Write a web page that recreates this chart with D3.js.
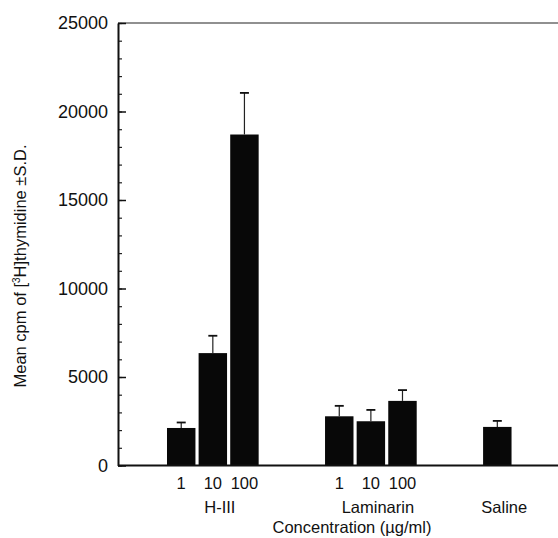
<!DOCTYPE html>
<html>
<head>
<meta charset="utf-8">
<script src="https://cdn.jsdelivr.net/npm/d3@7"></script>
<style>
  body { margin: 0; background: #fff; }
  svg { display: block; }
  text { font-family: "Liberation Sans", Arial, sans-serif; fill: #111; }
</style>
</head>
<body>
<div id="chart"></div>
<script>
// values
var groups = ["H-III", "Laminarin", "Saline"];
var doses = ["1", "10", "100"];
var hiiiMean = [2120, 6350, 18700];
var hiiiSD = [310, 980, 2350];
var laminarinMean = [2780, 2500, 3650];
var laminarinSD = [590, 640, 610];
var salineMean = [2180];
var salineSD = [340];
// slot where each group starts on the x axis (gaps between groups)
var groupStart = [1, 6, 11];
var yTicks = [0, 5000, 10000, 15000, 20000, 25000];

var width = 558, height = 538;
var margin = {top: 23, right: 0, bottom: 73, left: 118};

var svg = d3.select('#chart').append('svg')
    .attr('width', width)
    .attr('height', height);

// build rows for each bar
var rows = [];
[[hiiiMean, hiiiSD, doses], [laminarinMean, laminarinSD, doses], [salineMean, salineSD, [""]]]
    .forEach(function(g, gi) {
        g[0].forEach(function(v, i) {
            rows.push({group: groups[gi], dose: g[2][i], mean: v, sd: g[1][i], slot: groupStart[gi] + i});
        });
    });

var x = d3.scaleLinear().domain([-1, 12.92]).range([margin.left, width - margin.right]);
var y = d3.scaleLinear().domain([0, 25000]).range([height - margin.bottom + 0.5, margin.top]);
var slotW = x(1) - x(0);
var barW = slotW * 0.9;

// top frame line
svg.append('line')
    .attr('x1', margin.left).attr('x2', width)
    .attr('y1', y(25000)).attr('y2', y(25000))
    .attr('stroke', '#222').attr('stroke-width', 1.2);

// bars
svg.selectAll('rect.bar').data(rows)
    .enter().append('rect')
    .attr('class', 'bar')
    .attr('x', function(d) { return x(d.slot) - barW / 2; })
    .attr('width', barW)
    .attr('y', function(d) { return y(d.mean); })
    .attr('height', function(d) { return y(0) - y(d.mean); })
    .attr('fill', '#080808');

// error bars (upper only)
svg.selectAll('line.err').data(rows)
    .enter().append('line')
    .attr('class', 'err')
    .attr('x1', function(d) { return x(d.slot); })
    .attr('x2', function(d) { return x(d.slot); })
    .attr('y1', function(d) { return y(d.mean); })
    .attr('y2', function(d) { return y(d.mean + d.sd); })
    .attr('stroke', '#222').attr('stroke-width', 1.2);
svg.selectAll('line.cap').data(rows)
    .enter().append('line')
    .attr('class', 'cap')
    .attr('x1', function(d) { return x(d.slot) - 4.5; })
    .attr('x2', function(d) { return x(d.slot) + 4.5; })
    .attr('y1', function(d) { return y(d.mean + d.sd); })
    .attr('y2', function(d) { return y(d.mean + d.sd); })
    .attr('stroke', '#111').attr('stroke-width', 1.8);

// baseline
svg.append('line')
    .attr('x1', margin.left).attr('x2', width)
    .attr('y1', y(0)).attr('y2', y(0))
    .attr('stroke', '#111').attr('stroke-width', 1.8);

// y axis: minor ticks, then major ticks with labels
svg.append('g')
    .attr('transform', 'translate(' + margin.left + ',0)')
    .call(d3.axisLeft(y).tickValues(d3.range(0, 25001, 1000)).tickSize(-4).tickSizeOuter(0).tickFormat(''))
    .call(function(g) { g.select('.domain').remove(); })
    .selectAll('line').attr('stroke', '#222').attr('stroke-width', 1.2);

var yAxis = svg.append('g')
    .attr('transform', 'translate(' + margin.left + ',0)')
    .call(d3.axisLeft(y).tickValues(yTicks).tickSize(-8).tickSizeOuter(0).tickPadding(10).tickFormat(d3.format('d')));
yAxis.select('.domain').attr('stroke', '#111').attr('stroke-width', 2);
yAxis.selectAll('.tick line').attr('stroke', '#111').attr('stroke-width', 1.5);
yAxis.selectAll('.tick text')
    .style('font-size', '18px')
    .style('font-family', '"Liberation Sans", Arial, sans-serif')
    .attr('fill', '#111');

// dose labels under each bar
svg.selectAll('text.dose').data(rows.filter(function(d) { return d.dose !== ""; }))
    .enter().append('text')
    .attr('class', 'dose')
    .attr('x', function(d) { return x(d.slot); })
    .attr('y', 489)
    .attr('text-anchor', 'middle')
    .style('font-size', '16.5px')
    .text(function(d) { return d.dose; });

// group labels
svg.selectAll('text.group').data(groups)
    .enter().append('text')
    .attr('class', 'group')
    .attr('x', function(d, i) { return x(groupStart[i] + (i < 2 ? 1 : 0)) + 7; })
    .attr('y', 513)
    .attr('text-anchor', 'middle')
    .style('font-size', '16.5px')
    .text(function(d) { return d; });

// axis titles
svg.append('text')
    .attr('x', 352).attr('y', 533)
    .attr('text-anchor', 'middle')
    .style('font-size', '16.5px')
    .text('Concentration (\u00b5g/ml)');

var yTitle = svg.append('text')
    .attr('transform', 'translate(26,266) rotate(-90)')
    .attr('text-anchor', 'middle')
    .style('font-size', '16.5px');
yTitle.append('tspan').text('Mean cpm of [');
yTitle.append('tspan').attr('dy', -6).style('font-size', '10px').text('3');
yTitle.append('tspan').attr('dy', 6).text('H]thymidine \u00b1S.D.');
</script>
</body>
</html>
